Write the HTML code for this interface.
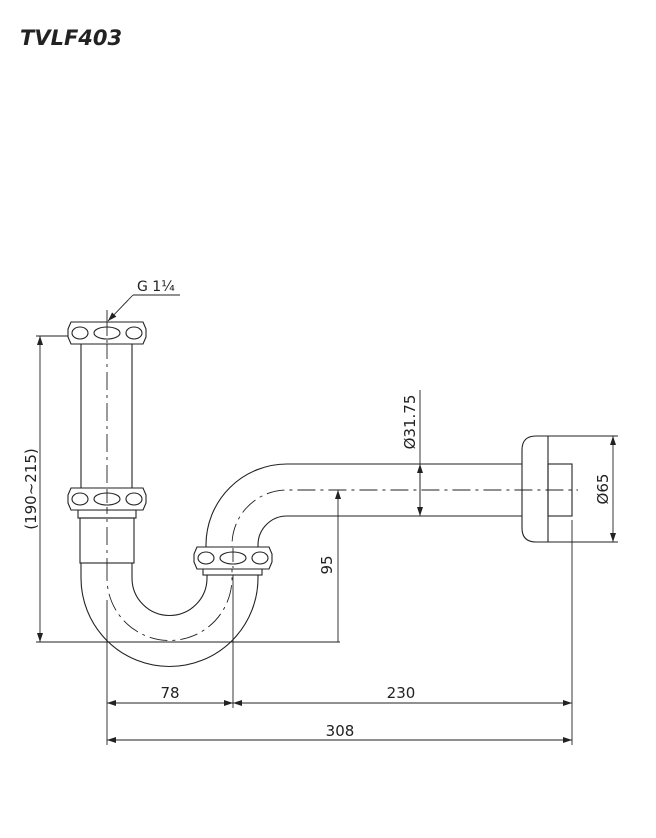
<!DOCTYPE html>
<html><head><style>body{margin:0;background:#fff}svg{display:block}text{font-family:"DejaVu Sans","Liberation Sans",sans-serif;fill:#222}</style></head><body>
<svg width="656" height="838" viewBox="0 0 656 838" xmlns="http://www.w3.org/2000/svg">
<defs>
<marker id="a" markerWidth="10" markerHeight="8" refX="9" refY="4" orient="auto-start-reverse" markerUnits="userSpaceOnUse"><path d="M0,1 L9,4 L0,7 Z" fill="#222"/></marker>
<g id="nut" fill="#fff" stroke="#222" stroke-width="1.1">
<path d="M-36,-11 L36,-11 L39,-4 L39,4 L36,11 L-36,11 L-39,4 L-39,-4 Z"/>
<ellipse cx="-27" cy="0" rx="8" ry="6"/><ellipse cx="0" cy="0" rx="13" ry="6"/><ellipse cx="27" cy="0" rx="8" ry="6"/>
</g>
</defs>
<text x="20" y="45" font-size="21" font-weight="bold" font-style="italic">TVLF403</text>
<g fill="none" stroke="#222" stroke-width="1.1">
<line x1="81" y1="344" x2="81" y2="489"/><line x1="132" y1="344" x2="132" y2="489"/>
<rect x="78" y="510" width="58" height="8"/>
<rect x="80" y="518" width="54" height="45"/>
<path d="M81,563 L81,578 A88.5,88.5 0 0 0 258,578 L258,575"/>
<path d="M132,563 L132,578 A37.5,37.5 0 0 0 207,578 L207,575"/>
<rect x="203" y="568" width="59" height="7"/>
<path d="M206,548 L206,545 A81,81 0 0 1 287,464 L522,464"/>
<path d="M258,548 L258,545 A29,29 0 0 1 287,516 L522,516"/>
<path d="M548,436 L536,436 Q522,436 522,450 L522,528 Q522,542 536,542 L548,542 Z"/>
<rect x="548" y="464" width="24" height="52"/>
<g stroke-dasharray="18,5,3,5" stroke-width="0.9">
<line x1="107" y1="310" x2="107" y2="563"/>
<path d="M107,563 L107,578 A62.5,62.5 0 0 0 232,578 L232,545 A55,55 0 0 1 287,490 L578,490"/>
</g>
<g stroke-width="0.9">
<line x1="36" y1="336" x2="78" y2="336"/><line x1="36" y1="642" x2="340" y2="642"/>
<line x1="40" y1="336" x2="40" y2="642" marker-start="url(#a)" marker-end="url(#a)"/>
<line x1="338" y1="490" x2="338" y2="642" marker-start="url(#a)"/>
<line x1="420" y1="390" x2="420" y2="516" marker-end="url(#a)"/>
<line x1="420" y1="464" x2="420" y2="516" marker-start="url(#a)"/>
<line x1="548" y1="436" x2="618" y2="436"/><line x1="548" y1="542" x2="618" y2="542"/>
<line x1="613" y1="436" x2="613" y2="542" marker-start="url(#a)" marker-end="url(#a)"/>
<line x1="107" y1="600" x2="107" y2="745"/><line x1="233" y1="575" x2="233" y2="708"/><line x1="572" y1="520" x2="572" y2="745"/>
<line x1="107" y1="703" x2="233" y2="703" marker-start="url(#a)" marker-end="url(#a)"/>
<line x1="233" y1="703" x2="572" y2="703" marker-start="url(#a)" marker-end="url(#a)"/>
<line x1="107" y1="740" x2="572" y2="740" marker-start="url(#a)" marker-end="url(#a)"/>
<line x1="133" y1="295" x2="180" y2="295"/>
<line x1="133" y1="295" x2="108" y2="321" marker-end="url(#a)"/>
</g>
</g>
<use href="#nut" x="107" y="333"/>
<use href="#nut" x="107" y="499"/>
<use href="#nut" x="233" y="558"/>
<g stroke="#222" stroke-width="0.9" stroke-dasharray="14,4,3,4"><line x1="107" y1="322" x2="107" y2="344"/><line x1="107" y1="489" x2="107" y2="510"/><line x1="233" y1="548" x2="233" y2="568"/></g>
<text x="137" y="291" font-size="14">G 1¼</text>
<text font-size="15" transform="translate(36,489) rotate(-90)" text-anchor="middle">(190~215)</text>
<text font-size="15" transform="translate(332,565) rotate(-90)" text-anchor="middle">95</text>
<text font-size="15" transform="translate(415,422) rotate(-90)" text-anchor="middle">Ø31.75</text>
<text font-size="15" transform="translate(608,489) rotate(-90)" text-anchor="middle">Ø65</text>
<text x="170" y="698" font-size="15" text-anchor="middle">78</text>
<text x="401" y="698" font-size="15" text-anchor="middle">230</text>
<text x="340" y="736" font-size="15" text-anchor="middle">308</text>
</svg>
</body></html>
